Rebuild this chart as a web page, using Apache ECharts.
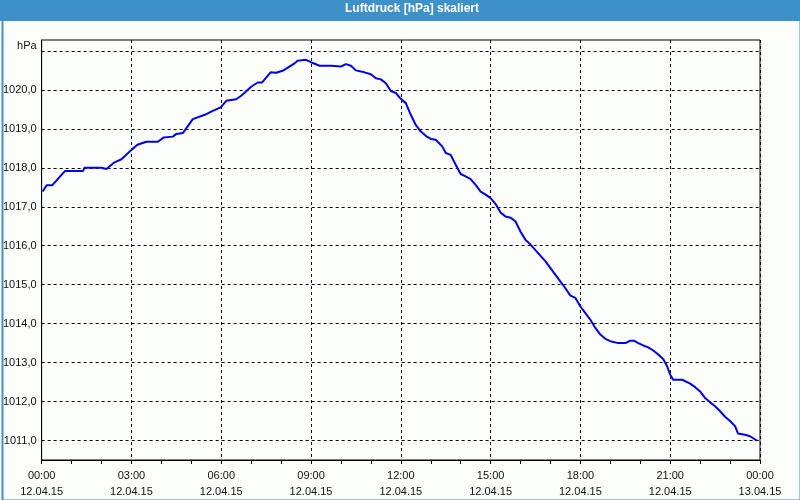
<!DOCTYPE html>
<html>
<head>
<meta charset="utf-8">
<script src="https://cdn.jsdelivr.net/npm/echarts@6/dist/echarts.min.js"></script>
<style>
html,body{margin:0;padding:0;background:#fcfefc;}
#c{width:800px;height:500px;}
</style>
</head>
<body>
<div id="c"></div>
<script>
// time in minutes since 12.04.15 00:00
const minutes = [2,10,21,47,83,86,120,130,146,160,180,192,210,233,245,263,270,283,303,327,343,359,370,390,400,420,433,442,459,470,483,507,513,530,540,557,580,600,610,620,630,647,660,670,680,690,700,710,720,730,740,750,760,770,780,790,803,810,820,830,840,850,860,870,880,890,900,910,920,930,940,950,960,970,980,1010,1037,1047,1060,1070,1080,1090,1100,1110,1120,1130,1140,1156,1170,1180,1188,1196,1206,1216,1226,1236,1246,1254,1260,1266,1284,1300,1310,1320,1330,1340,1350,1360,1370,1380,1390,1396,1410,1420,1430,1434];
const pressure = [1017.39,1017.55,1017.55,1017.92,1017.92,1018.00,1018.00,1017.97,1018.14,1018.22,1018.46,1018.59,1018.67,1018.67,1018.78,1018.80,1018.87,1018.89,1019.25,1019.36,1019.46,1019.55,1019.72,1019.76,1019.85,1020.08,1020.19,1020.19,1020.45,1020.44,1020.49,1020.68,1020.75,1020.77,1020.71,1020.62,1020.62,1020.60,1020.66,1020.62,1020.50,1020.45,1020.40,1020.30,1020.27,1020.17,1019.97,1019.92,1019.77,1019.66,1019.36,1019.10,1018.93,1018.82,1018.74,1018.72,1018.55,1018.38,1018.33,1018.08,1017.84,1017.78,1017.71,1017.56,1017.39,1017.31,1017.22,1017.07,1016.85,1016.75,1016.72,1016.62,1016.36,1016.15,1016.03,1015.60,1015.13,1014.96,1014.72,1014.66,1014.44,1014.27,1014.10,1013.89,1013.72,1013.61,1013.55,1013.50,1013.50,1013.56,1013.56,1013.50,1013.44,1013.39,1013.31,1013.21,1013.09,1012.90,1012.69,1012.56,1012.56,1012.46,1012.37,1012.26,1012.09,1011.98,1011.88,1011.75,1011.61,1011.50,1011.37,1011.18,1011.15,1011.11,1011.03,1011.00];
const yTicks = [1011,1012,1013,1014,1015,1016,1017,1018,1019,1020,1021];
const xTickLabels = ['00:00\n12.04.15','03:00\n12.04.15','06:00\n12.04.15','09:00\n12.04.15','12:00\n12.04.15','15:00\n12.04.15','18:00\n12.04.15','21:00\n12.04.15','00:00\n13.04.15'];
const title = 'Luftdruck [hPa] skaliert';
const unit = 'hPa';

const chart = echarts.init(document.getElementById('c'), null, {renderer:'canvas'});
const font = 'Liberation Sans';
chart.setOption({
  backgroundColor:'#fcfefc',
  animation:false,
  graphic:[
    {type:'rect', left:0, top:0, shape:{width:800, height:21}, style:{fill:'#3d91c8'}, z:10},
    {type:'rect', left:0, top:0, shape:{x:1,y:1,width:798,height:498}, style:{fill:null, stroke:'#3d91c8', lineWidth:2}, z:10},
    {type:'text', left:345, top:3, style:{text:title, fill:'#ffffff', font:'bold 12px "Liberation Sans"'}, z:11}
  ],
  grid:{left:40, right:40, top:40, bottom:40, show:true, borderColor:'#000', borderWidth:1, backgroundColor:'transparent'},
  xAxis:{
    type:'value', min:0, max:1440, interval:180,
    axisLine:{show:true, lineStyle:{color:'#000', width:1}},
    axisTick:{show:true, length:4, lineStyle:{color:'#000'}},
    minorTick:{show:true, splitNumber:3, length:4, lineStyle:{color:'#000'}},
    splitLine:{show:true, lineStyle:{color:'#000', type:[3,3], width:1}},
    axisLabel:{color:'#111', fontFamily:font, fontSize:11, lineHeight:16, margin:8,
      formatter:function(v){ return xTickLabels[Math.round(v/180)]; }}
  },
  yAxis:{
    type:'value', min:1010.5, max:1021.28,
    name:unit, nameLocation:'end', nameGap:-6,
    nameTextStyle:{color:'#111', fontFamily:font, fontSize:11, align:'right', verticalAlign:'middle', padding:[0,5,0,0]},
    axisLine:{show:true, lineStyle:{color:'#000', width:1}},
    axisTick:{show:false, customValues:yTicks},
    splitLine:{show:true, lineStyle:{color:'#000', type:[3,3], width:1}},
    axisLabel:{color:'#111', fontFamily:font, fontSize:11, margin:5, customValues:yTicks.slice(0,10),
      formatter:function(v){ return v.toFixed(1).replace('.', ','); }}
  },
  series:[{
    type:'line', data:minutes.map((t,i)=>[t,pressure[i]]),
    showSymbol:false, symbol:'none',
    lineStyle:{color:'#0000e8', width:2}, z:5
  }]
});
</script>
</body>
</html>
